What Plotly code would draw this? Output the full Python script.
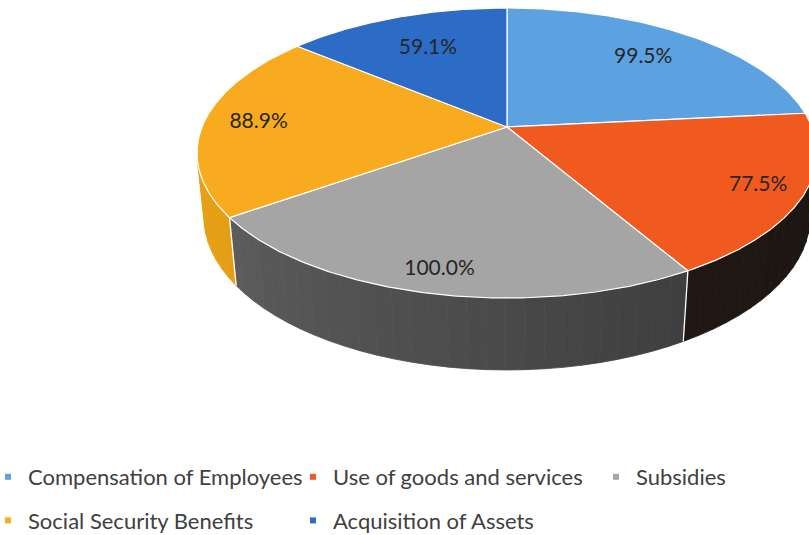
import numpy as np
import plotly.graph_objects as go

# ---------------- data ----------------
categories = ["Compensation of Employees", "Use of goods and services", "Subsidies",
              "Social Security Benefits", "Acquisition of Assets"]
values = [99.5, 77.5, 100.0, 88.9, 59.1]
value_labels = [f"{v:.1f}%" for v in values]

# ---------------- style ----------------
top_colors = ["#5DA2E0", "#F05A1E", "#A5A5A5", "#F8AB1E", "#2D6CC6"]
side_colors = [("#3a6790", "#2f5575"), ("#2c1d14", "#1b1512"), ("#646464", "#2e2e2e"),
               ("#e6a016", "#d89412"), ("#1f4a8a", "#1a3f75")]
label_radius = [0.73, 0.86, 0.88, 0.82, 0.68]   # data-label placement inside each slice
legend_column = [0, 1, 2, 0, 1]

W, H = 809, 535
cx, cy = 507.0, 127.0          # projected pie centre (pixels)
elev = np.radians(27.4)        # camera elevation
s_e, c_e = np.sin(elev), np.cos(elev)
dist = 5.58 * c_e              # camera distance (perspective)
focal = 305.0 * dist           # scale
depth = 0.238                  # pie thickness (radius units)


def proj(theta_deg, r, hgt):
    t = np.radians(np.asarray(theta_deg, dtype=float))
    X = np.asarray(r) * np.sin(t)
    D = np.asarray(r) * np.cos(t)
    v = D * s_e + hgt * c_e
    z = D * c_e - hgt * s_e
    k = focal / (dist + z)
    return cx + X * k, cy - v * k


vals = np.array(values)
ang = np.concatenate([[0.0], np.cumsum(vals / vals.sum() * 360.0)])

# silhouette angles of the cylinder wall (from camera geometry)
vis_lo = np.degrees(np.arccos(-1.0 / (dist * c_e)))
vis_hi = 360.0 - vis_lo


def hex2rgb(h):
    h = h.lstrip("#")
    return np.array([int(h[i:i + 2], 16) for i in (0, 2, 4)], dtype=float)


def mix(a, b, t):
    c = hex2rgb(a) * (1 - t) + hex2rgb(b) * t
    return "rgb(%d,%d,%d)" % tuple(np.round(c).astype(int))


fig = go.Figure()

# ---- side walls (visible front part), shaded strips ----
for i in range(len(vals)):
    a0, a1 = max(ang[i], vis_lo), min(ang[i + 1], vis_hi)
    if a1 <= a0:
        continue
    nstrip = max(2, int((a1 - a0) / 3))
    edges = np.linspace(a0, a1, nstrip + 1)
    for j in range(nstrip):
        th = np.linspace(edges[j], edges[j + 1], 6)
        xt, yt = proj(th, 1.0, 0.0)
        xb, yb = proj(th[::-1], 1.0, -depth)
        tmid = ((edges[j] + edges[j + 1]) / 2 - vis_hi) / (vis_lo - vis_hi)
        col = mix(side_colors[i][0], side_colors[i][1], np.clip(tmid, 0, 1))
        fig.add_trace(go.Scatter(
            x=np.concatenate([xt, xb, xt[:1]]), y=np.concatenate([yt, yb, yt[:1]]),
            mode="lines", fill="toself", fillcolor=col,
            line=dict(color=col, width=0.8), hoverinfo="skip", showlegend=False))

# white separators on the wall at slice boundaries
for a in ang[1:-1]:
    if vis_lo < a < vis_hi:
        xs, ys = proj([a, a], 1.0, np.array([0.0, -depth]))
        fig.add_trace(go.Scatter(x=xs, y=ys, mode="lines",
                                 line=dict(color="white", width=1.3),
                                 hoverinfo="skip", showlegend=False))

# ---- top faces ----
for i in range(len(vals)):
    th = np.linspace(ang[i], ang[i + 1], 160)
    xa, ya = proj(th, 1.0, 0.0)
    x0, y0 = proj(0.0, 0.0, 0.0)
    fig.add_trace(go.Scatter(
        x=np.concatenate([[x0], xa, [x0]]), y=np.concatenate([[y0], ya, [y0]]),
        mode="lines", fill="toself", fillcolor=top_colors[i],
        line=dict(color="white", width=1.2), name=categories[i],
        hoverinfo="text", text=f"{categories[i]}: {value_labels[i]}",
        showlegend=False))

# ---- data labels ----
mid = (ang[:-1] + ang[1:]) / 2
lx, ly = proj(mid, np.array(label_radius), 0.0)
fig.add_trace(go.Scatter(x=lx, y=ly, mode="text", text=value_labels,
                         textfont=dict(family="Lato, Open Sans, sans-serif", size=21, color="#262626"),
                         hoverinfo="skip", showlegend=False))

# ---- legend entries ----
legend_ids = ["legend", "legend2", "legend3"]
for i, name in enumerate(categories):
    fig.add_trace(go.Scatter(x=[None], y=[None], mode="markers", name=name,
                             marker=dict(symbol="square", size=6, color=top_colors[i]),
                             legendgroup=name, legend=legend_ids[legend_column[i]]))

legend_common = dict(orientation="v", xanchor="left", yanchor="top", y=1 - 456 / H,
                     tracegroupgap=12,
                     font=dict(family="Lato, Open Sans, sans-serif", size=22, color="#404040"),
                     bgcolor="rgba(0,0,0,0)")

fig.update_layout(
    width=W, height=H,
    margin=dict(l=0, r=0, t=0, b=0, autoexpand=False),
    paper_bgcolor="white", plot_bgcolor="white",
    xaxis=dict(range=[0, W], visible=False, fixedrange=True),
    yaxis=dict(range=[H, 0], visible=False, fixedrange=True),
    legend=dict(**legend_common, x=-12 / W),
    legend2=dict(**legend_common, x=293 / W),
    legend3=dict(**legend_common, x=596 / W),
)

fig.write_html("out.html", config={"displayModeBar": False},
               post_script="document.body.style.margin='0';")
